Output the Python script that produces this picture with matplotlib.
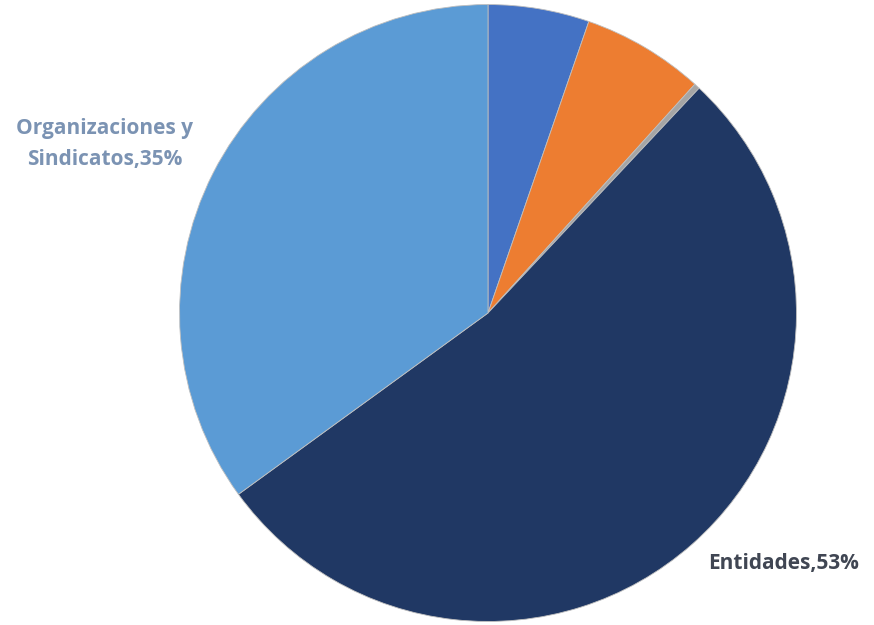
import matplotlib
matplotlib.use("Agg")
import matplotlib.pyplot as plt

categories = ["Serie A", "Serie B", "Serie C", "Entidades", "Organizaciones y\nSindicatos"]
values = [5.3, 6.4, 0.3, 53, 35]
colors = ["#4472c4", "#ed7d31", "#a5a5a5", "#203864", "#5b9bd5"]

W, H = 874, 625
fig = plt.figure(figsize=(W/100, H/100), dpi=100)
cx, cy, r = 488, 313, 310
ax = fig.add_axes([(cx-r)/W, (H-cy-r)/H, 2*r/W, 2*r/H])
ax.pie(values, colors=colors, startangle=90, counterclock=False,
       wedgeprops=dict(linewidth=0.6, edgecolor="#bfbfbf"))
ax.set_xlim(-1.005, 1.005)
ax.set_ylim(-1.005, 1.005)
ax.set_aspect("equal")

line1, line2 = categories[4].split("\n")
fig.text(105/W, 1-144/H, f"{line1}\n{line2},{values[4]:.0f}%",
         ha="center", va="center", fontsize=15, fontweight="bold", color="#7b93b3",
         family="Open Sans", linespacing=1.65)
fig.text(784/W, 1-563/H, f"{categories[3]},{values[3]:.0f}%", ha="center", va="center",
         fontsize=15, fontweight="bold", color="#404653", family="Open Sans")

fig.savefig("out.png", dpi=100)
